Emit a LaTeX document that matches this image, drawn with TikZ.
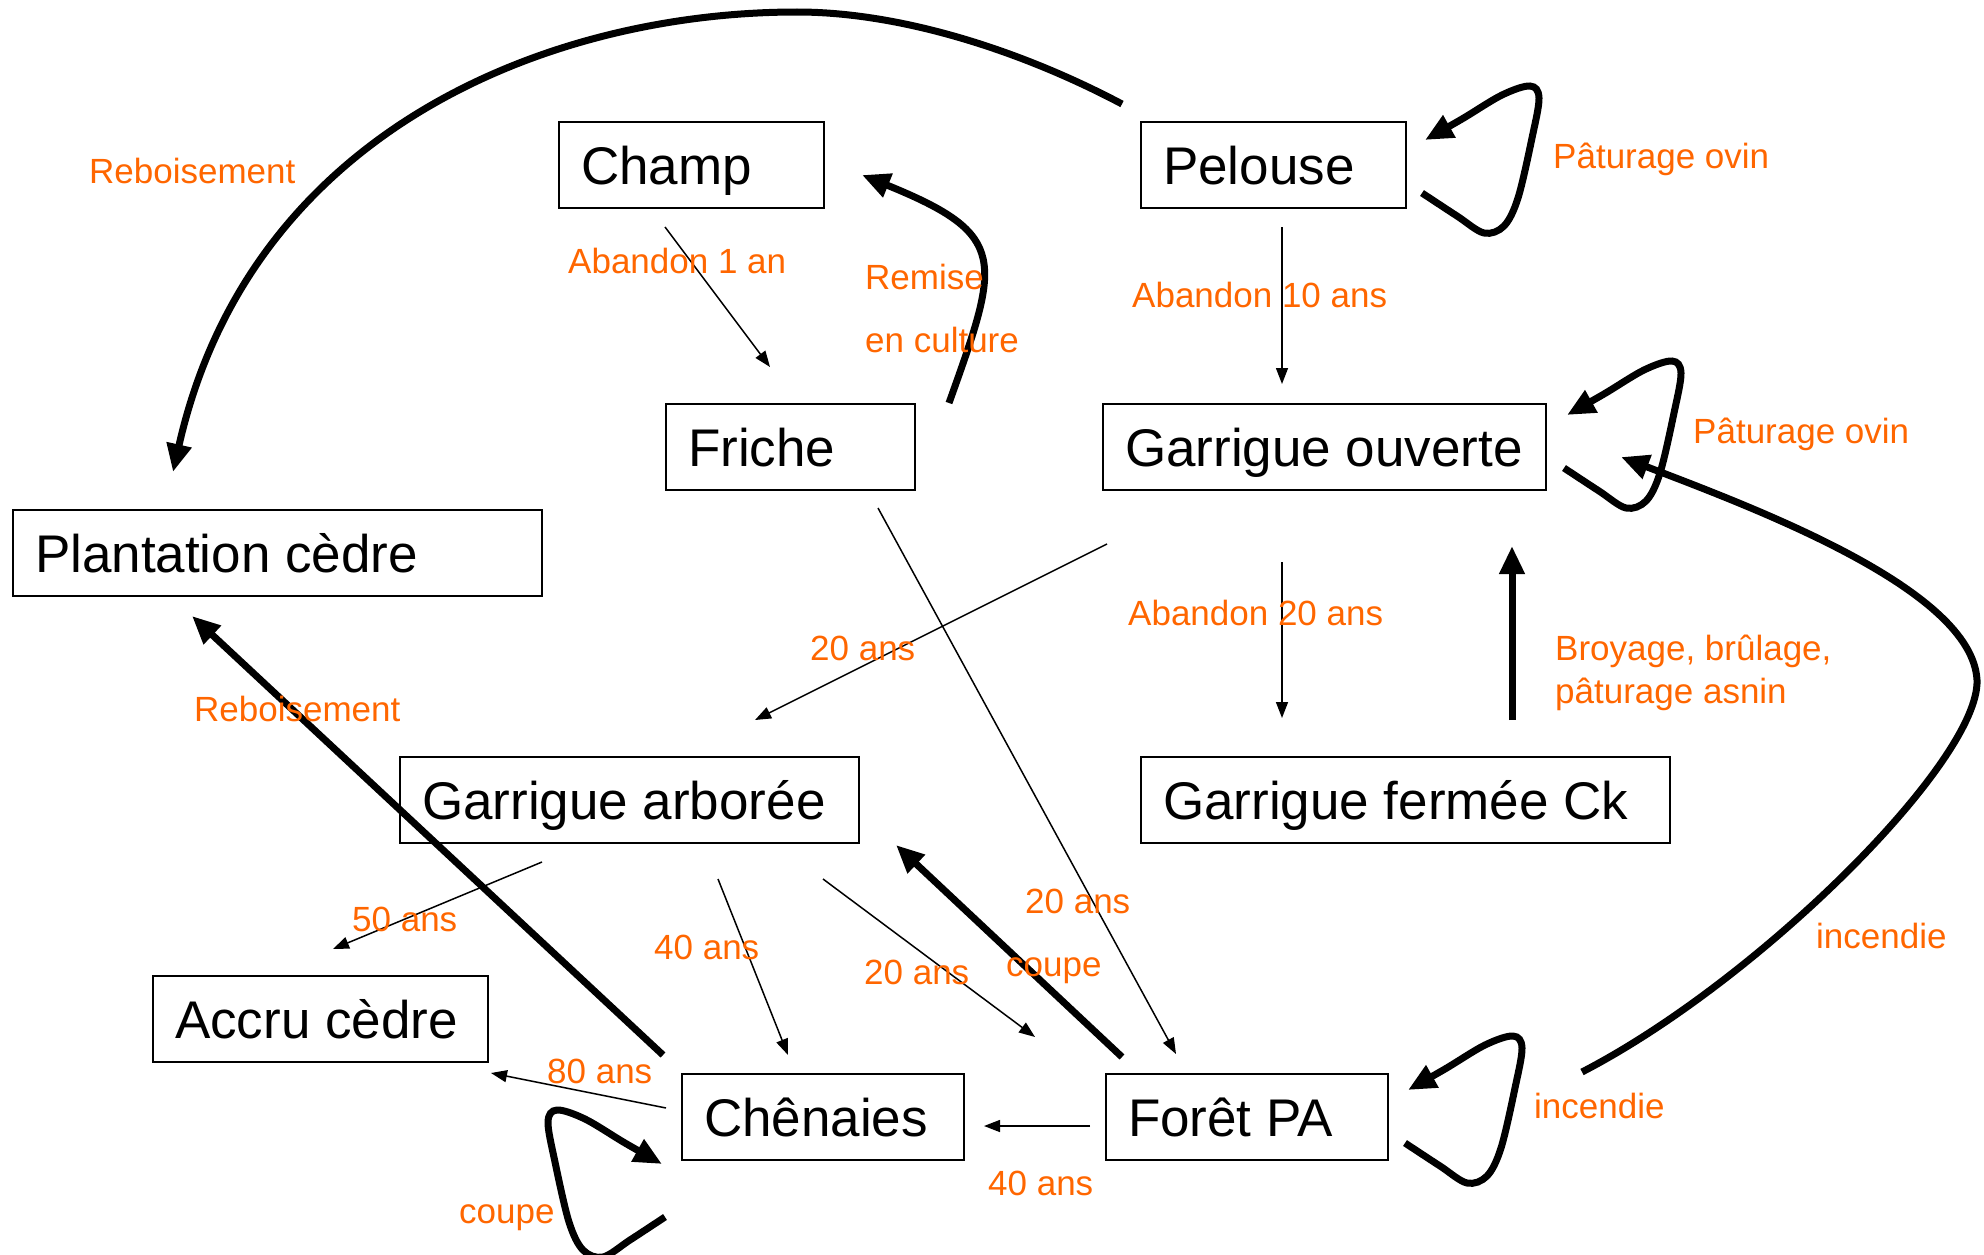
\documentclass[tikz,border=0pt]{standalone}
\usepackage{fontspec}
\setmainfont{Liberation Sans}
\usetikzlibrary{arrows.meta}
\definecolor{lbl}{RGB}{255,102,0}
\begin{document}
\begin{tikzpicture}[x=1pt,y=-1pt,
  box/.style={draw=black,line width=2pt,rectangle,inner xsep=22pt,inner ysep=0pt,minimum height=86pt,
    font=\fontsize{53}{60}\selectfont,text height=44pt,text depth=5pt},
  lab/.style={text=lbl,font=\fontsize{35}{40}\selectfont,inner sep=0pt,anchor=base west},
  thinarr/.style={line width=1.5pt,-{Triangle[length=16pt,width=12pt]}},
  thickarr/.style={line width=7pt,-{Triangle[length=28pt,width=24pt]}},
  selfloop/.pic={\draw[thickarr] plot[smooth,tension=0.55] coordinates
    {(0,0) (35,23) (62,40) (82,33) (96,5) (110,-55) (117,-95) (108,-107) (80,-98) (40,-74) (3,-53)};}
]
\useasboundingbox (0,0) rectangle (1984,1255);

% boxes
\node[box] (champ) at (691.5,164.5) {\makebox[221pt][l]{Champ}};
\node[box] (pel) at (1273.5,164.5) {\makebox[221pt][l]{Pelouse}};
\node[box] (fri) at (790.5,447) {\makebox[205pt][l]{Friche}};
\node[box] (gou) at (1324.5,447) {\makebox[399pt][l]{Garrigue ouverte}};
\node[box] (pla) at (277.5,553) {\makebox[485pt][l]{Plantation cèdre}};
\node[box] (gar) at (629.5,800) {\makebox[415pt][l]{Garrigue arborée}};
\node[box] (gfe) at (1405.5,800) {\makebox[485pt][l]{Garrigue fermée Ck}};
\node[box] (acc) at (320.5,1019) {\makebox[291pt][l]{Accru cèdre}};
\node[box] (che) at (823,1117) {\makebox[238pt][l]{Chênaies}};
\node[box] (for) at (1247,1117) {\makebox[238pt][l]{Forêt PA}};

% connector end points
\coordinate (champS) at (665,227);   \coordinate (friE) at (770,367);
\coordinate (pelS) at (1282,227);    \coordinate (gouN) at (1282,384);
\coordinate (gouS) at (1282,562);    \coordinate (gfeN) at (1282,718);
\coordinate (gouSW) at (1107,544);   \coordinate (garNE) at (755,720);
\coordinate (friS) at (878,508);     \coordinate (forNW) at (1176,1054);
\coordinate (garSW) at (542,862);    \coordinate (accNE) at (333,949);
\coordinate (garS) at (718,879);     \coordinate (cheN) at (788,1055);
\coordinate (garSE) at (823,879);    \coordinate (forW) at (1035,1037);
\coordinate (cheW) at (666,1108);    \coordinate (accE) at (491,1073);
\coordinate (forL) at (1090,1126);   \coordinate (cheR) at (984,1126);
\coordinate (cheNW) at (663,1055);   \coordinate (plaS) at (192,616);
\coordinate (forN) at (1122,1057);   \coordinate (garE) at (896,845);
\coordinate (gfeT) at (1512,720);    \coordinate (gouB) at (1512,546);
\coordinate (pelNW) at (1122,104);   \coordinate (plaN) at (173,472);
\coordinate (friNE) at (949,403);    \coordinate (champE) at (862,175);
\coordinate (forE) at (1582,1072);   \coordinate (gouE) at (1621,457);
\coordinate (pelL) at (1422,193);    \coordinate (gouL) at (1564,468);
\coordinate (forLp) at (1405,1143);  \coordinate (cheL) at (665,1217);

% thin arrows
\draw[thinarr] (champS) -- (friE);
\draw[thinarr] (pelS) -- (gouN);
\draw[thinarr] (gouS) -- (gfeN);
\draw[thinarr] (gouSW) -- (garNE);
\draw[thinarr] (friS) -- (forNW);
\draw[thinarr] (garSW) -- (accNE);
\draw[thinarr] (garS) -- (cheN);
\draw[thinarr] (garSE) -- (forW);
\draw[thinarr] (cheW) -- (accE);
\draw[thinarr] (forL) -- (cheR);

% thick arrows
\draw[thickarr] (cheNW) -- (plaS);
\draw[thickarr] (forN) -- (garE);
\draw[thickarr] (gfeT) -- (gouB);
\draw[thickarr] (pelNW) .. controls (1020,50) and (900,12) .. (797,12)
   .. controls (550,12) and (250,130) .. (plaN);
\draw[thickarr] (friNE) .. controls (1000,260) and (1010,235) .. (champE);
\draw[thickarr] (forE) .. controls (1760,980) and (1980,760) .. (1977,680)
   .. controls (1972,590) and (1760,510) .. (gouE);

% self loops
\pic at (pelL) {selfloop};
\pic at (gouL) {selfloop};
\pic at (forLp) {selfloop};
\pic[xscale=-1] at (cheL) {selfloop};

% labels
\node[lab] (l1) at (89,183) {Reboisement};
\node[lab] (l2) at (568,273) {Abandon 1 an};
\node[lab] (l3) at (865,289) {Remise};
\node[lab] (l4) at (865,352) {en culture};
\node[lab] (l5) at (1553,168) {Pâturage ovin};
\node[lab] (l6) at (1132,307) {Abandon 10 ans};
\node[lab] (l7) at (1693,443) {Pâturage ovin};
\node[lab] (l8) at (1128,625) {Abandon 20 ans};
\node[lab] (l9) at (1555,660) {Broyage, brûlage,};
\node[lab] (l10) at (1555,703) {pâturage asnin};
\node[lab] (l11) at (1816,948) {incendie};
\node[lab] (l12) at (1534,1118) {incendie};
\node[lab] (l13) at (810,660) {20 ans};
\node[lab] (l14) at (194,721) {Reboisement};
\node[lab] (l15) at (352,931) {50 ans};
\node[lab] (l16) at (654,959) {40 ans};
\node[lab] (l17) at (864,984) {20 ans};
\node[lab] (l18) at (1025,913) {20 ans};
\node[lab] (l19) at (1006,976) {coupe};
\node[lab] (l20) at (547,1083) {80 ans};
\node[lab] (l21) at (988,1195) {40 ans};
\node[lab] (l22) at (459,1223) {coupe};
\end{tikzpicture}
\end{document}
